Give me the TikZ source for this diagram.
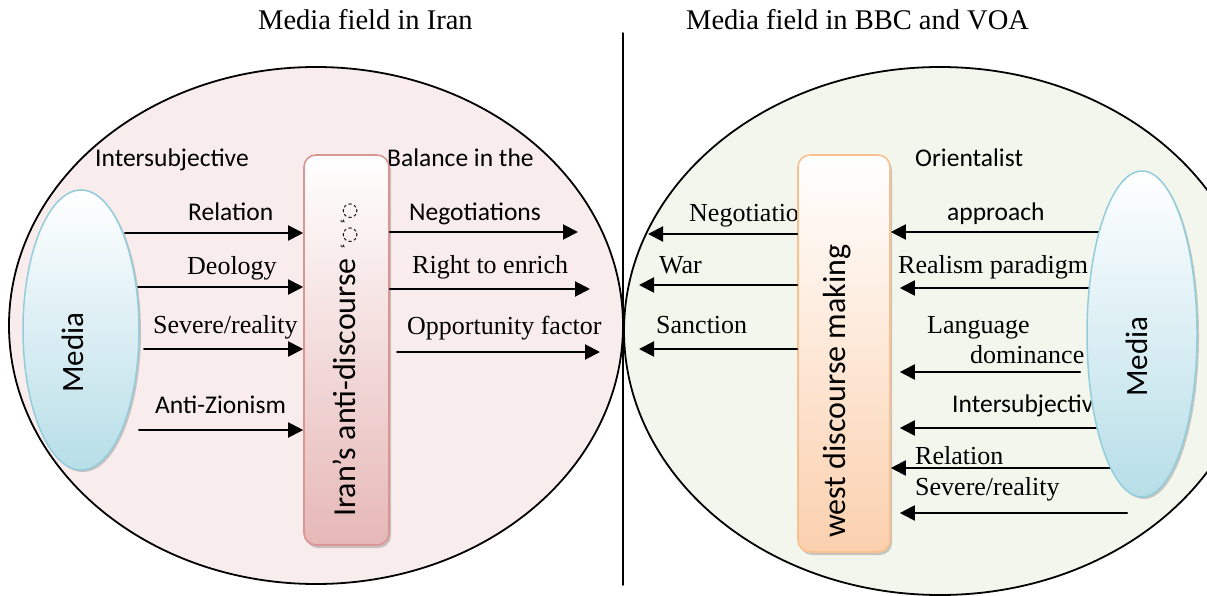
\documentclass[tikz,border=0pt]{standalone}
\usepackage{fontspec}
\setmainfont{Liberation Serif}
\newfontfamily\sansf{Carlito}
\newfontfamily\dejavu{DejaVu Sans}
\usetikzlibrary{arrows.meta,shapes.geometric,shadows}

\definecolor{leftfield}{RGB}{249,236,236}
\definecolor{rightfield}{RGB}{243,246,236}
\definecolor{iranedge}{RGB}{217,150,148}
\definecolor{iranbot}{RGB}{230,184,183}
\definecolor{westedge}{RGB}{250,192,143}
\definecolor{westbot}{RGB}{251,208,174}
\definecolor{mediaedge}{RGB}{147,205,221}
\definecolor{mediabot}{RGB}{183,222,232}

\tikzset{
  flow/.style={line width=2pt, -{Triangle[length=15pt,width=15pt]}},
  serlbl/.style={anchor=base west, inner sep=0pt, font=\fontsize{26}{30}\selectfont},
  sanlbl/.style={anchor=base west, inner sep=0pt, font=\sansf\fontsize{25.5}{30}\selectfont},
  titlelbl/.style={anchor=base west, inner sep=0pt, font=\fontsize{28.5}{34}\selectfont},
  fieldell/.style={ellipse, draw, line width=1.8pt, inner sep=0pt},
  mediaell/.style={ellipse, draw=mediaedge, line width=1.5pt, top color=white, bottom color=mediabot,
    inner sep=0pt, drop shadow={shadow xshift=2pt, shadow yshift=-2pt, opacity=0.4}},
  discbox/.style={rectangle, rounded corners=12pt, line width=1.6pt, inner sep=0pt,
    drop shadow={shadow xshift=2pt, shadow yshift=-3pt, opacity=0.4}},
  vertlbl/.style={anchor=base west, inner sep=0pt, rotate=90, font=\sansf\fontsize{32}{36}\selectfont},
}

\begin{document}
\begin{tikzpicture}[x=1pt, y=-1pt, line cap=round, line join=round]

  %% ════ 两个场（大椭圆）════
  \node[fieldell, fill=leftfield, minimum width=614pt, minimum height=517pt] (irfield) at (316,325.5) {};
  \node[fieldell, fill=rightfield, minimum width=632pt, minimum height=528pt] (wfield) at (940,331) {};

  %% 中间分隔线
  \draw[line width=1.5pt] (623,33) -- (623,585);

  %% ════ 标题 ════
  \node[titlelbl] (tIran) at (258,30) {Media field in Iran};
  \node[titlelbl] (tWest) at (686,30) {Media field in BBC and VOA};

  %% ════ 左侧标签 ════
  \node[sanlbl] (lInter) at (95,167) {Intersubjective};
  \node[sanlbl] (lRel)   at (188,221) {Relation};
  \node[serlbl] (lDeo)   at (187,274) {Deology};
  \node[serlbl] (lSev)   at (153,333) {Severe/reality};
  \node[sanlbl] (lZion)  at (155,413) {Anti-Zionism};

  \node[sanlbl] (lBal)   at (387,167) {Balance in the};
  \node[sanlbl] (lNeg)   at (409,220) {Negotiations};
  \node[serlbl] (lRight) at (412,273) {Right to enrich};
  \node[serlbl] (lOpp)   at (407,334) {Opportunity factor};

  %% ════ 右侧标签 ════
  \node[serlbl] (wNeg)   at (689,222) {Negotiations};   % 被方框盖住一半
  \node[serlbl] (wWar)   at (659,273) {War};
  \node[serlbl] (wSanc)  at (656,333) {Sanction};

  \node[sanlbl] (wOri)   at (915,167) {Orientalist};
  \node[sanlbl] (wAppr)  at (947,221) {approach};
  \node[serlbl] (wReal)  at (898,273) {Realism paradigm};
  \node[serlbl] (wLang)  at (927,333) {Language};
  \node[serlbl] (wDom)   at (970,363) {dominance};
  \node[sanlbl] (wInter) at (952,412) {Intersubjective};  % 被 Media 椭圆盖住
  \node[serlbl] (wRel)   at (915,464) {Relation};
  \node[serlbl] (wSev)   at (915,495) {Severe/reality};

  %% ════ 方框 ════
  \node[discbox, draw=iranedge, top color=white, bottom color=iranbot,
        minimum width=85pt, minimum height=390pt] (ibox) at (346.5,350) {};
  \node[discbox, draw=westedge, top color=white, bottom color=westbot,
        minimum width=92pt, minimum height=397pt] (wbox) at (844,353.5) {};

  %% ════ 箭头 ════
  \coordinate (li1) at (125,233);
  \coordinate (li2) at (138,287);
  \coordinate (li3) at (144,349);
  \coordinate (li4) at (139,430);
  \foreach \p in {li1,li2,li3,li4}
    \draw[flow] (\p) -- (ibox.west |- \p);

  \coordinate (ro1) at (578,232);
  \coordinate (ro2) at (590,289);
  \coordinate (ro3s) at (397,352);
  \coordinate (ro3) at (600,352);
  \draw[flow] (ibox.east |- ro1) -- (ro1);
  \draw[flow] (ibox.east |- ro2) -- (ro2);
  \draw[flow] (ro3s) -- (ro3);

  \coordinate (wo1) at (648,234);
  \coordinate (wo2) at (639,285);
  \coordinate (wo3) at (639,349);
  \foreach \p in {wo1,wo2,wo3}
    \draw[flow] (wbox.west |- \p) -- (\p);

  \coordinate (wgap) at ([xshift=9pt]wbox.east);
  \coordinate (wi1) at (1105,232);
  \coordinate (wi2) at (1095,288);
  \coordinate (wi3) at (1080,372);
  \coordinate (wi4) at (1100,428);
  \coordinate (wi5) at (1110,468);
  \coordinate (wi6) at (1127,513);
  \draw[flow] (wi1) -- (wbox.east |- wi1);
  \draw[flow] (wi5) -- (wbox.east |- wi5);
  \foreach \p in {wi2,wi3,wi4,wi6}
    \draw[flow] (\p) -- (wgap |- \p);

  %% ════ Media 椭圆 ════
  \node[mediaell, minimum width=116pt, minimum height=280pt] (lmedia) at (81,330) {};
  \node[mediaell, minimum width=110pt, minimum height=326pt] (rmedia) at (1142,334) {};
  \node[vertlbl, font=\sansf\fontsize{31}{36}\selectfont] (lmediatxt) at (83,393) {Media};
  \node[vertlbl, font=\sansf\fontsize{31}{36}\selectfont] (rmediatxt) at (1147,397) {Media};

  %% ════ 方框内竖排文字 ════
  \node[vertlbl] (iranlbl) at (355,517) {Iran’s anti-discourse\hspace{10pt}{\dejavu\fontsize{19}{19}\selectfont
    \raisebox{10pt}{\fontsize{9}{9}\selectfont ء}◌\hspace{4pt}\raisebox{10pt}{\fontsize{9}{9}\selectfont ء}◌}};
  \node[vertlbl] (westlbl) at (845,538) {west discourse making};

  % 钉死画布
  \pgfresetboundingbox
  \path[use as bounding box] (0,0) rectangle (1207,596);
\end{tikzpicture}
\end{document}
